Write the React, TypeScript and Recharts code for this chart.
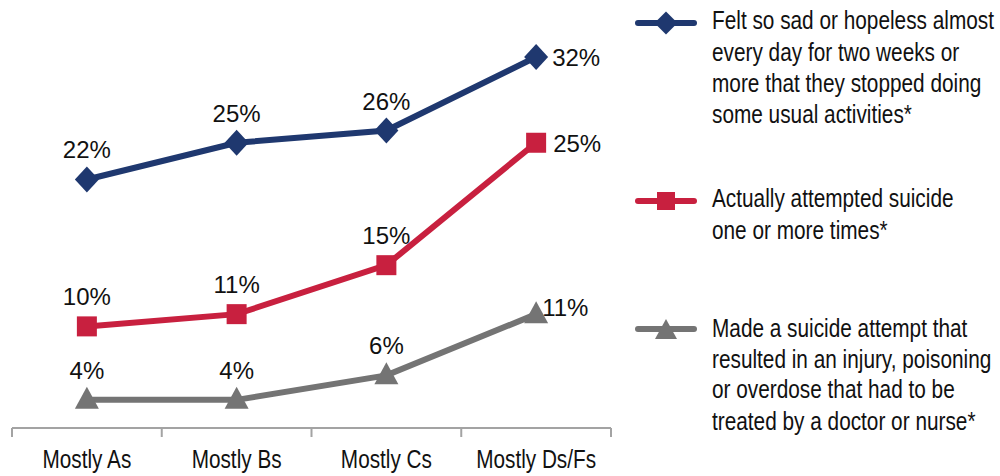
import React from 'react';
import { LineChart, Line, XAxis, YAxis, Legend, LabelList } from 'recharts';

// ---- data ----
const categories = ['Mostly As', 'Mostly Bs', 'Mostly Cs', 'Mostly Ds/Fs'];
const sadHopeless = [22, 25, 26, 32];
const attemptedSuicide = [10, 11, 15, 25];
const injuryAttempt = [4, 4, 6, 11];

const sadLegend = [
  'Felt so sad or hopeless almost',
  'every day for two weeks or',
  'more that they stopped doing',
  'some usual activities*',
];
const attemptedLegend = ['Actually attempted suicide', 'one or more times*'];
const injuryLegend = [
  'Made a suicide attempt that',
  'resulted in an injury, poisoning',
  'or overdose that had to be',
  'treated by a doctor or nurse*',
];

const data = categories.map((c, i) => ({
  category: c,
  sad: sadHopeless[i],
  attempted: attemptedSuicide[i],
  injury: injuryAttempt[i],
}));

// ---- style ----
const BLUE = '#1f386f';
const RED = '#c8203f';
const GRAY = '#747474';
const AXIS = '#a3a3a3';
const TEXT = '#111111';
const FONT = "'Liberation Sans', Arial, sans-serif";

const W = 1000;
const H = 476;
const MARGIN = { top: 24, right: 389, bottom: 0, left: 12 };
const PLOT_W = W - MARGIN.left - MARGIN.right;
const BAND = PLOT_W / categories.length;

// ---- markers ----
const Diamond = (p: any) => {
  const { cx, cy, fill } = p;
  if (cx == null || cy == null) return null;
  return (
    <polygon
      points={`${cx},${cy - 13} ${cx + 12},${cy} ${cx},${cy + 13} ${cx - 12},${cy}`}
      fill={fill}
    />
  );
};
const Square = (p: any) => {
  const { cx, cy, fill } = p;
  if (cx == null || cy == null) return null;
  return <rect x={cx - 10} y={cy - 10} width={20} height={20} fill={fill} />;
};
const Triangle = (p: any) => {
  const { cx, cy, fill } = p;
  if (cx == null || cy == null) return null;
  return (
    <polygon
      points={`${cx},${cy - 13} ${cx + 12},${cy + 9} ${cx - 12},${cy + 9}`}
      fill={fill}
    />
  );
};

const makeDot = (Shape: any, color: string, name: string) => (p: any) => (
  <Shape key={`${name}-${p.index}`} cx={p.cx} cy={p.cy} fill={color} />
);

const makeLabel = (name: string, dx: number, dy: number) => (p: any) => {
  const { x, y, value, index } = p;
  if (x == null || y == null) return null;
  const last = index === categories.length - 1;
  return (
    <text
      key={`${name}-lbl-${index}`}
      x={last ? x + dx : x}
      y={last ? y + dy : y - 21}
      textAnchor={last ? 'start' : 'middle'}
      fontFamily={FONT}
      fontSize={24}
      fill={TEXT}
    >
      {`${value}%`}
    </text>
  );
};

const AxisTick = (p: any) => {
  const { x, y, payload, index } = p;
  const half = BAND / 2;
  const last = index === categories.length - 1;
  return (
    <g>
      <line x1={x - half} x2={x - half} y1={y} y2={y + 9} stroke={AXIS} strokeWidth={2} />
      {last && <line x1={x + half} x2={x + half} y1={y} y2={y + 9} stroke={AXIS} strokeWidth={2} />}
      <text
        transform={`translate(${x},${y + 40}) scale(0.83,1)`}
        textAnchor="middle"
        fontFamily={FONT}
        fontSize={25}
        fill={TEXT}
      >
        {payload.value}
      </text>
    </g>
  );
};

const LEG_LEFT = 620;
const legendItems = [
  { color: BLUE, Shape: Diamond, lineY: 23, lines: sadLegend, baselines: [29, 61, 92, 123] },
  { color: RED, Shape: Square, lineY: 201, lines: attemptedLegend, baselines: [207, 239] },
  { color: GRAY, Shape: Triangle, lineY: 329, lines: injuryLegend, baselines: [337, 368, 398, 430] },
];

const renderLegend = () => (
  <svg width={W - LEG_LEFT} height={H} style={{ display: 'block' }}>
    {legendItems.map((it, k) => (
      <g key={k}>
        <line x1={18} x2={74} y1={it.lineY} y2={it.lineY} stroke={it.color} strokeWidth={6} strokeLinecap="round" />
        {it.Shape === Diamond && (
          <polygon
            points={`46,${it.lineY - 11.5} 57.5,${it.lineY} 46,${it.lineY + 11.5} 34.5,${it.lineY}`}
            fill={it.color}
          />
        )}
        {it.Shape === Square && <rect x={37} y={it.lineY - 9} width={18} height={18} fill={it.color} />}
        {it.Shape === Triangle && (
          <polygon
            points={`46,${it.lineY - 10} 57,${it.lineY + 10} 35,${it.lineY + 10}`}
            fill={it.color}
          />
        )}
        {it.lines.map((ln, j) => (
          <text
            key={j}
            transform={`translate(92,${it.baselines[j]}) scale(0.8,1)`}
            fontFamily={FONT}
            fontSize={26}
            fill={TEXT}
          >
            {ln}
          </text>
        ))}
      </g>
    ))}
  </svg>
);

export default function App() {
  return (
    <div style={{ position: 'absolute', left: 0, top: 0, width: W, height: H, background: '#fff' }}>
      <LineChart width={W} height={H} data={data} margin={MARGIN}>
        <XAxis
          dataKey="category"
          height={48}
          padding={{ left: BAND / 2, right: BAND / 2 }}
          axisLine={{ stroke: AXIS, strokeWidth: 2 }}
          tickLine={false}
          tickSize={0}
          tickMargin={0}
          interval={0}
          tick={<AxisTick />}
        />
        <YAxis hide domain={[1.7, 34.7]} />
        <Legend
          layout="horizontal"
          verticalAlign="middle"
          align="center"
          content={renderLegend}
          wrapperStyle={{ left: LEG_LEFT, top: 0, width: W - LEG_LEFT, height: H }}
        />
        <Line
          dataKey="injury"
          stroke={GRAY}
          strokeWidth={6}
          isAnimationActive={false}
          dot={makeDot(Triangle, GRAY, 'injury')}
          activeDot={false}
        >
          <LabelList dataKey="injury" content={makeLabel('injury', 6, 2)} />
        </Line>
        <Line
          dataKey="attempted"
          stroke={RED}
          strokeWidth={6}
          isAnimationActive={false}
          dot={makeDot(Square, RED, 'attempted')}
          activeDot={false}
        >
          <LabelList dataKey="attempted" content={makeLabel('attempted', 17, 9)} />
        </Line>
        <Line
          dataKey="sad"
          stroke={BLUE}
          strokeWidth={6}
          isAnimationActive={false}
          dot={makeDot(Diamond, BLUE, 'sad')}
          activeDot={false}
        >
          <LabelList dataKey="sad" content={makeLabel('sad', 16, 9)} />
        </Line>
      </LineChart>
    </div>
  );
}
